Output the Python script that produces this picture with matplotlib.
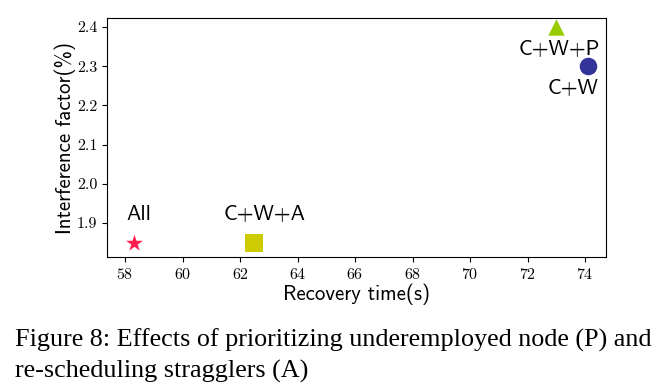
import matplotlib
matplotlib.use("Agg")
import matplotlib.pyplot as plt

plt.rcParams['axes.formatter.use_mathtext'] = True

# recovery time (s) vs interference factor (%)
names = ["All", "C+W+A", "C+W+P", "C+W"]
recovery = [58.3, 62.5, 73.0, 74.1]
interference = [1.85, 1.85, 2.40, 2.30]
markers = ["*", "s", "^", "o"]
colors = ["#ff1f4f", "#cccc00", "#99cc00", "#333399"]
sizes = [160, 150, 140, 160]
# label offset in points (dx, dy)
offsets = [(4, 20), (7, 20), (2, -16), (-11, -16)]

fig = plt.figure(figsize=(6.67, 3.9), dpi=100)
ax = fig.add_axes([107 / 667, 1 - 257 / 390, 499 / 667, 239 / 390])

for n, x, y, m, c, s, off in zip(names, recovery, interference, markers, colors, sizes, offsets):
    ax.scatter(x, y, marker=m, color=c, s=s, zorder=3, linewidths=0)
    ax.annotate(n, (x, y), xytext=off, textcoords="offset points",
                ha="center", va="center", fontsize=15.5, family="cmss10")

ax.set_xlim(57.37, 74.73)
ax.set_ylim(1.813, 2.423)
ax.set_xticks(range(58, 75, 2))
ax.set_yticks([1.9, 2.0, 2.1, 2.2, 2.3, 2.4])
ax.set_yticklabels(["1.9", "2.0", "2.1", "2.2", "2.3", "2.4"])
for lab in ax.get_xticklabels() + ax.get_yticklabels():
    lab.set_family("cmr10")
    lab.set_fontsize(11.5)
ax.set_xlabel("Recovery time(s)", family="cmss10", fontsize=15, labelpad=1)
ax.set_ylabel("Interference factor(%)", family="cmss10", fontsize=15, labelpad=1)

fig.text(15 / 667, 1 - 340 / 390, "Figure 8: Effects of prioritizing underemployed node (P) and",
         family="Liberation Serif", fontsize=18.8, va="center", ha="left")
fig.text(15 / 667, 1 - 371 / 390, "re-scheduling stragglers (A)",
         family="Liberation Serif", fontsize=18.8, va="center", ha="left")

fig.savefig("out.png", dpi=100)
